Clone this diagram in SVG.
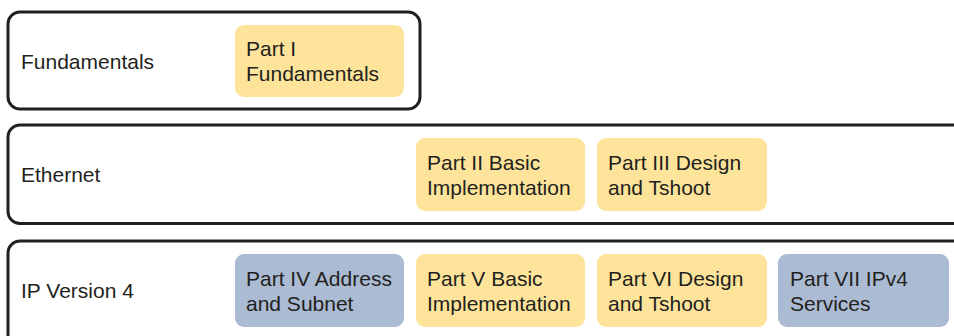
<svg xmlns="http://www.w3.org/2000/svg" width="954" height="336" viewBox="0 0 954 336">
<style>
.row{fill:#fff;stroke:#231f20;stroke-width:3}
.y{fill:#fee49b}
.b{fill:#abbbd3}
text{font-family:"Liberation Sans",Arial,sans-serif;font-size:21px;fill:#231f20}
</style>
<rect width="954" height="336" fill="#fff"/>
<g id="row-fundamentals">
<rect class="row" x="8" y="12" width="412" height="97" rx="12"/>
<text x="21" y="69">Fundamentals</text>
</g>
<g id="row-ethernet">
<rect class="row" x="8" y="125" width="980" height="98.5" rx="12"/>
<text x="21" y="182">Ethernet</text>
</g>
<g id="row-ipv4">
<rect class="row" x="8" y="241" width="980" height="130" rx="12"/>
<text x="21" y="298">IP Version 4</text>
</g>
<g id="part1">
<rect class="y" x="235" y="25" width="169" height="72" rx="9"/>
<text x="246" y="56">Part I</text>
<text x="246" y="81">Fundamentals</text>
</g>
<g id="part2">
<rect class="y" x="416" y="138" width="169" height="73" rx="9"/>
<text x="427" y="170">Part II Basic</text>
<text x="427" y="195">Implementation</text>
</g>
<g id="part3">
<rect class="y" x="597" y="138" width="170" height="73" rx="9"/>
<text x="608" y="170">Part III Design</text>
<text x="608" y="195">and Tshoot</text>
</g>
<g id="part4">
<rect class="b" x="235" y="254" width="169" height="73" rx="9"/>
<text x="246" y="286">Part IV Address</text>
<text x="246" y="311">and Subnet</text>
</g>
<g id="part5">
<rect class="y" x="416" y="254" width="169" height="73" rx="9"/>
<text x="427" y="286">Part V Basic</text>
<text x="427" y="311">Implementation</text>
</g>
<g id="part6">
<rect class="y" x="597" y="254" width="170" height="73" rx="9"/>
<text x="608" y="286">Part VI Design</text>
<text x="608" y="311">and Tshoot</text>
</g>
<g id="part7">
<rect class="b" x="778" y="254" width="171" height="73" rx="9"/>
<text x="790" y="286">Part VII IPv4</text>
<text x="790" y="311">Services</text>
</g>
<g id="connectors"></g>
</svg>
